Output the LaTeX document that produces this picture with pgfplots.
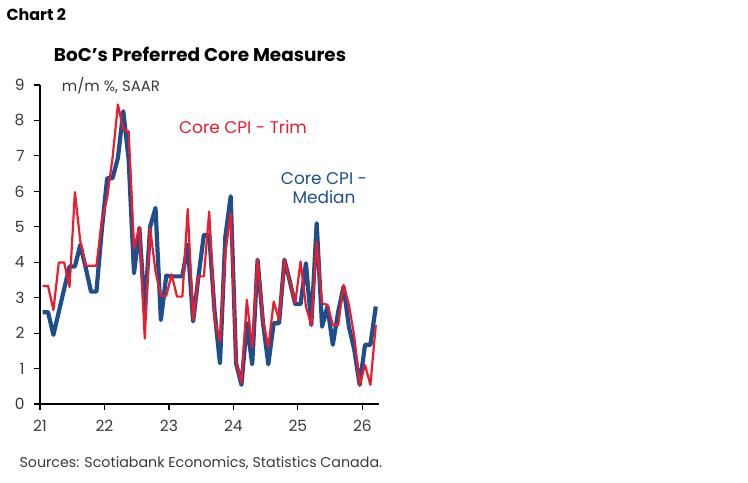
\documentclass[border=0pt]{standalone}
\usepackage{fontspec}
\setmainfont{Poppins}
\usepackage{pgfplots}
\usepackage{pgfplotstable}
\pgfplotsset{compat=1.18}

\definecolor{trimred}{HTML}{EC1C2E}
\definecolor{medblue}{HTML}{1F4E8C}
\definecolor{txtgray}{HTML}{3A3A3A}

% monthly, Jan 2021 = 0 (points sit mid-month)
\pgfplotstableread{
x    trim  median
0.5  3.33  2.59
1.5  3.33  2.59
2.5  2.65  1.95
3.5  3.99  2.60
4.5  3.99  3.25
5.5  3.30  3.88
6.5  5.98  3.88
7.5  4.59  4.49
8.5  3.90  3.85
9.5  3.90  3.17
10.5 3.90  3.17
11.5 5.15  4.90
12.5 5.82  6.37
13.5 6.94  6.37
14.5 8.45  6.94
15.5 7.74  8.26
16.5 7.69  6.90
17.5 4.40  3.69
18.5 4.99  4.97
19.5 1.85  2.60
20.5 4.96  5.00
21.5 3.74  5.53
22.5 3.05  2.37
23.5 3.05  3.62
24.5 3.66  3.60
25.5 3.03  3.60
26.5 3.03  3.60
27.5 5.50  4.50
28.5 2.37  2.33
29.5 3.60  3.60
30.5 3.60  4.77
31.5 5.43  4.77
32.5 2.37  2.60
33.5 1.76  1.15
34.5 4.26  4.73
35.5 5.39  5.86
36.5 1.20  1.15
37.5 0.60  0.54
38.5 2.94  2.28
39.5 1.60  1.12
40.5 4.07  4.07
41.5 2.37  2.30
42.5 1.60  1.12
43.5 2.89  2.28
44.5 2.37  2.28
45.5 4.07  4.07
46.5 3.46  3.46
47.5 2.85  2.82
48.5 4.02  2.82
49.5 2.75  3.97
50.5 2.23  2.23
51.5 4.58  5.10
52.5 2.84  2.18
53.5 2.80  2.75
54.5 2.23  1.67
55.5 2.23  2.60
56.5 3.36  3.31
57.5 2.80  2.18
58.5 1.90  1.53
59.5 0.54  0.54
60.5 1.10  1.67
61.5 0.54  1.67
62.5 2.23  2.75
}\coredata

\begin{document}
\begin{tikzpicture}[x=1bp,y=1bp]
\useasboundingbox (-40,-79) rectangle (708,404);
\begin{axis}[
  at={(0,0)}, anchor=south west,
  scale only axis, width=339bp, height=319bp,
  axis lines=left, axis line style={-, line width=1.4bp, black},
  xmin=0, xmax=63.1, ymin=0, ymax=9,
  xtick={0,12,24,36,48,60},
  xticklabels={21,22,23,24,25,26},
  ytick={0,1,...,9},
  tick align=outside, major tick length=6bp,
  tick style={line width=1.2bp, black},
  ticklabel style={font=\fontsize{15.5}{16}\selectfont, text=txtgray},
  /pgf/number format/assume math mode=true,
  yticklabel style={xshift=-6bp},
  xticklabel style={yshift=-7bp},
  clip=false,
]
\addplot[medblue, line width=4.2bp, line join=round, no markers] table[x=x, y=median]{\coredata};
\addplot[trimred, line width=2.2bp, line join=round, no markers] table[x=x, y=trim]{\coredata};
\end{axis}

\node[anchor=west, font=\bfseries\fontsize{16}{17}\selectfont] at (-37,389) {Chart 2};
\node[font=\bfseries\fontsize{18.5}{20}\selectfont] at (160,350) {BoC's Preferred Core Measures};
\node[font=\fontsize{15}{16}\selectfont, text=txtgray] at (71,318) {m/m \%, SAAR};
\node[font=\fontsize{17}{18}\selectfont, text=trimred] at (203,277) {Core CPI - Trim};
\node[font=\fontsize{17}{19}\selectfont, text=medblue, align=center] at (284,216) {Core CPI -\\Median};
\node[anchor=west, font=\fontsize{14.3}{15}\selectfont, text=txtgray] at (-24,-59) {Sources: Scotiabank Economics, Statistics Canada.};
\end{tikzpicture}
\end{document}
